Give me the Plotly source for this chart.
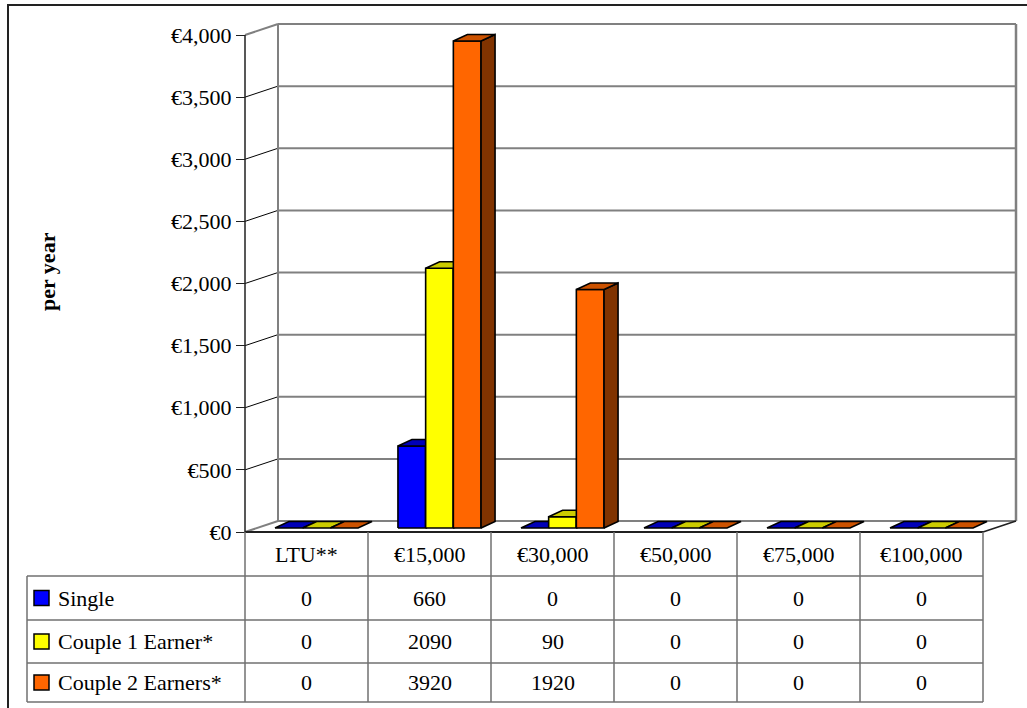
import plotly.graph_objects as go

# ---- data -------------------------------------------------------------
categories = ["LTU**", "€15,000", "€30,000", "€50,000", "€75,000", "€100,000"]
series_names = ["Single", "Couple 1 Earner*", "Couple 2 Earners*"]
single = [0, 660, 0, 0, 0, 0]
couple_1_earner = [0, 2090, 90, 0, 0, 0]
couple_2_earners = [0, 3920, 1920, 0, 0, 0]
y_tick_values = [0, 500, 1000, 1500, 2000, 2500, 3000, 3500, 4000]
y_tick_labels = ["€0", "€500", "€1,000", "€1,500", "€2,000",
                 "€2,500", "€3,000", "€3,500", "€4,000"]
axis_title = "per year"

series_values = [single, couple_1_earner, couple_2_earners]
front_colors = ["#0000FF", "#FFFF00", "#FF6600"]
top_colors = ["#0000B8", "#CCCC00", "#CC5200"]
side_colors = ["#000080", "#808000", "#803300"]

# ---- geometry (pixels) ------------------------------------------------
W, H = 1027, 708
AX_LEFT = 245          # front-left corner of the floor
FLOOR_Y = 532          # front edge of the floor
CAT_PX = 123           # width of one category
VAL_PX = 0.12425       # pixels per euro
WALL_DX, WALL_DY = 33, 11
BAR_SHIFT = (10, 4)
BAR_DEPTH = (14, 6.5)
BAR_W = 27.7
FONT = "Liberation Serif, Times New Roman, serif"
TABLE_FONT = 22
TICK_FONT = 22


def dx(p):
    return p / CAT_PX


def dy(p):
    return p / VAL_PX


def px(x):
    return x / W


def py(y):
    return 1 - y / H


x_min = -0.5 - AX_LEFT / CAT_PX
x_max = x_min + W / CAT_PX
y_min = -(H - FLOOR_Y) / VAL_PX
y_max = FLOOR_Y / VAL_PX

fig = go.Figure()

# ---- 3D bars ----------------------------------------------------------
bw = dx(BAR_W)
ddx, ddy = dx(BAR_DEPTH[0]), dy(BAR_DEPTH[1])
yb = dy(BAR_SHIFT[1])
n_series = len(series_values)
for s, vals in enumerate(series_values):
    faces = {"front": ([], []), "side": ([], []), "top": ([], [])}
    for i, v in enumerate(vals):
        xl = i + dx(BAR_SHIFT[0]) - n_series / 2 * bw + s * bw
        xr = xl + bw
        yt = yb + v
        if v > 0:
            fx, fy = faces["front"]
            fx += [xl, xr, xr, xl, xl, None]
            fy += [yb, yb, yt, yt, yb, None]
            sx, sy = faces["side"]
            sx += [xr, xr + ddx, xr + ddx, xr, xr, None]
            sy += [yb, yb + ddy, yt + ddy, yt, yb, None]
        tx, ty = faces["top"]
        tx += [xl, xr, xr + ddx, xl + ddx, xl, None]
        ty += [yt, yt, yt + ddy, yt + ddy, yt, None]
    for face, color in (("front", front_colors[s]),
                        ("side", side_colors[s]),
                        ("top", top_colors[s])):
        fx, fy = faces[face]
        if not fx:
            continue
        fig.add_trace(go.Scatter(
            x=fx, y=fy, mode="lines", fill="toself", fillcolor=color,
            line=dict(color="black", width=1.6), hoverinfo="skip",
            showlegend=False, name=series_names[s]))

# ---- walls and gridlines ---------------------------------------------
shapes = []
wdx, wdy = dx(WALL_DX), dy(WALL_DY)
xf0, xf1 = -0.5, len(categories) - 0.5
grid_gray = "#808080"


def seg(x0, y0, x1, y1, color, width, ref="data", layer="below"):
    if ref == "data":
        shapes.append(dict(type="line", xref="x", yref="y", x0=x0, y0=y0,
                           x1=x1, y1=y1, layer=layer,
                           line=dict(color=color, width=width)))
    else:
        shapes.append(dict(type="line", xref="paper", yref="paper",
                           x0=px(x0), y0=py(y0), x1=px(x1), y1=py(y1),
                           layer=layer, line=dict(color=color, width=width)))


top_v = y_tick_values[-1]
for v in y_tick_values:
    # back wall gridline
    seg(xf0 + wdx, v + wdy, xf1 + wdx, v + wdy, grid_gray, 2)
    # slanted gridline on the side wall
    if 0 < v < top_v:
        seg(xf0, v, xf0 + wdx, v + wdy, "black", 1)
seg(xf0, top_v, xf0 + wdx, top_v + wdy, grid_gray, 2)
seg(xf0, 0, xf0 + wdx, wdy, grid_gray, 2)
seg(xf0 + wdx, wdy, xf0 + wdx, top_v + wdy, grid_gray, 2)
seg(xf1 + wdx, wdy, xf1 + wdx, top_v + wdy, grid_gray, 2.5)
# floor edges and front value axis
seg(xf1, 0, xf1 + wdx, wdy, "#202020", 1.5)
seg(xf0, 0, xf1, 0, "#202020", 2)
seg(xf0, 0, xf0, top_v, "#202020", 1.5)

# ---- data table -------------------------------------------------------
tbl = "#707070"
row_lines = [576, 620, 663, 702]
col_x = [AX_LEFT + CAT_PX * k for k in range(len(categories) + 1)]
LEG_LEFT = 27
for x in col_x:
    seg(x, FLOOR_Y, x, row_lines[-1], tbl, 1.5, ref="paper", layer="above")
seg(LEG_LEFT, row_lines[0], LEG_LEFT, row_lines[-1], tbl, 1.5,
    ref="paper", layer="above")
for y in row_lines:
    seg(LEG_LEFT, y, col_x[-1], y, tbl, 1.5, ref="paper", layer="above")

# outer frame
shapes.append(dict(type="rect", xref="paper", yref="paper",
                   x0=px(8), y0=py(5), x1=px(1045), y1=py(725),
                   line=dict(color="#222222", width=2), layer="above"))

annotations = []
header_y = (FLOOR_Y + row_lines[0]) / 2
for i, c in enumerate(categories):
    annotations.append(dict(x=i, y=py(header_y), xref="x", yref="paper",
                            text=c, showarrow=False,
                            xanchor="center", yanchor="middle",
                            font=dict(family=FONT, size=TABLE_FONT,
                                      color="black")))

row_tops = row_lines[:-1]
row_bots = row_lines[1:]
for s, vals in enumerate(series_values):
    yc = (row_tops[s] + row_bots[s]) / 2
    # legend key
    shapes.append(dict(type="rect", xref="paper", yref="paper",
                       x0=px(34), x1=px(49), y0=py(yc - 7.5), y1=py(yc + 7.5),
                       fillcolor=front_colors[s], layer="above",
                       line=dict(color="black", width=1.5)))
    annotations.append(dict(x=px(56), y=py(yc), xref="paper", yref="paper",
                            text=series_names[s], showarrow=False,
                            xanchor="left", yanchor="middle",
                            font=dict(family=FONT, size=TABLE_FONT,
                                      color="black")))
    for i, v in enumerate(vals):
        annotations.append(dict(x=i, y=py(yc), xref="x", yref="paper",
                                text=str(v), showarrow=False,
                                xanchor="center", yanchor="middle",
                                font=dict(family=FONT, size=TABLE_FONT,
                                          color="black")))

annotations.append(dict(x=px(47), y=py(272), xref="paper", yref="paper",
                        text="<b>" + axis_title + "</b>", textangle=-90,
                        showarrow=False, xanchor="center", yanchor="middle",
                        font=dict(family=FONT, size=22, color="black")))

fig.update_layout(
    width=W, height=H, autosize=False,
    margin=dict(l=0, r=0, t=0, b=0),
    paper_bgcolor="white", plot_bgcolor="white",
    shapes=shapes, annotations=annotations, showlegend=False,
    xaxis=dict(range=[x_min, x_max], domain=[0, 1], visible=False,
               fixedrange=True),
    yaxis=dict(range=[y_min, y_max], domain=[0, 1], anchor="free",
               position=AX_LEFT / W, showgrid=False, zeroline=False,
               showline=False, ticks="outside", ticklen=9,
               tickcolor="#202020", tickwidth=1.2,
               tickvals=y_tick_values, ticktext=y_tick_labels,
               tickfont=dict(family=FONT, size=TICK_FONT, color="black"),
               fixedrange=True),
)

fig.write_html("out.html")
